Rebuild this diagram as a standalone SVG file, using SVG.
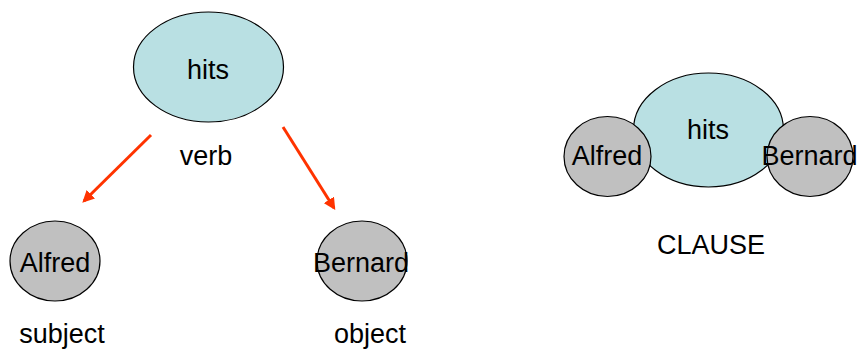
<svg xmlns="http://www.w3.org/2000/svg" width="858" height="349" viewBox="0 0 858 349">
<style>
.t{font-family:"Liberation Sans",Arial,sans-serif;font-size:27px;fill:#000;text-anchor:middle}
.verb{fill:#b9e0e3;stroke:#000;stroke-width:1.2}
.np{fill:#c0c0c0;stroke:#000;stroke-width:1.2}
.arr{stroke:#ff3300;stroke-width:3;fill:none;marker-end:url(#ah)}
</style>
<defs>
<marker id="ah" viewBox="0 0 10 10" refX="8" refY="5" markerWidth="4" markerHeight="4" orient="auto" markerUnits="strokeWidth">
<path d="M0,0 L10,5 L0,10 z" fill="#ff3300"/>
</marker>
</defs>
<g id="connectors">
<line class="arr" x1="151" y1="135" x2="84" y2="201"/>
<line class="arr" x1="283" y1="127" x2="334" y2="208"/>
</g>
<g id="hits1"><ellipse class="verb" cx="208.5" cy="67" rx="75" ry="55"/><text class="t" x="208" y="79">hits</text></g>
<g id="verb-label"><text class="t" x="206" y="165">verb</text></g>
<g id="alfred1"><ellipse class="np" cx="55" cy="261" rx="45" ry="40"/><text class="t" x="55" y="272">Alfred</text></g>
<g id="bernard1"><ellipse class="np" cx="362" cy="261" rx="45" ry="40"/><text class="t" x="361" y="272">Bernard</text></g>
<g id="subject-label"><text class="t" x="62" y="343">subject</text></g>
<g id="object-label"><text class="t" x="370" y="343">object</text></g>
<g id="hits2"><ellipse class="verb" cx="708.5" cy="130" rx="75" ry="57"/><text class="t" x="708" y="139">hits</text></g>
<g id="alfred2"><ellipse class="np" cx="607.5" cy="156.5" rx="43.5" ry="40"/><text class="t" x="607" y="165">Alfred</text></g>
<g id="bernard2"><ellipse class="np" cx="810" cy="156.5" rx="43" ry="40"/><text class="t" x="809.5" y="165">Bernard</text></g>
<g id="clause-label"><text class="t" x="711" y="254">CLAUSE</text></g>
</svg>
